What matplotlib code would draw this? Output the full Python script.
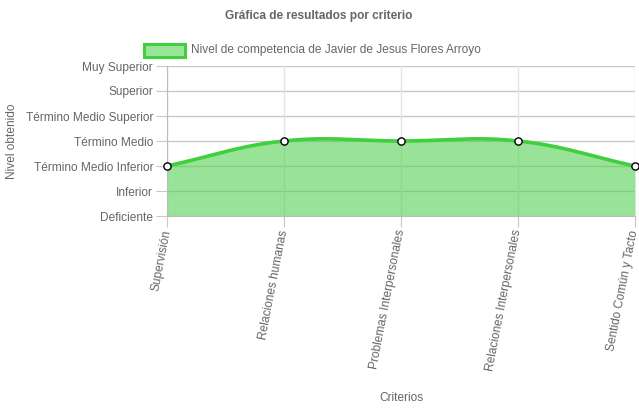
import numpy as np
import matplotlib
matplotlib.use("Agg")
import matplotlib.pyplot as plt
from matplotlib.patches import Rectangle

criterios = ["Supervisión", "Relaciones humanas", "Problemas Interpersonales",
             "Relaciones Interpersonales", "Sentido Común y Tacto"]
niveles = ["Deficiente", "Inferior", "Término Medio Inferior", "Término Medio",
           "Término Medio Superior", "Superior", "Muy Superior"]
valores = [2, 3, 3, 3, 2]
serie = "Nivel de competencia de Javier de Jesus Flores Arroyo"

plt.rcParams['font.family'] = ['Liberation Sans', 'DejaVu Sans']
TXT = '#666666'
FS = 8.6

fig = plt.figure(figsize=(6.39, 4.11), dpi=100)
W, H = 639, 411
L, R, T, B = 167, 635, 66, 216
ax = fig.add_axes([L / W, (H - B) / H, (R - L) / W, (B - T) / H])

x = np.arange(len(criterios), dtype=float)
y = np.array(valores, dtype=float)
ax.set_xlim(0, len(criterios) - 1)
ax.set_ylim(0, len(niveles) - 1)

# Chart.js-like spline (tension 0.4) computed in pixel space
sx = (R - L) / (len(criterios) - 1)
sy = (B - T) / (len(niveles) - 1)
px, py = x * sx, y * sy
t = 0.4
cps = []
n = len(px)
for i in range(n):
    pp = (px[max(i - 1, 0)], py[max(i - 1, 0)])
    cu = (px[i], py[i])
    nx = (px[min(i + 1, n - 1)], py[min(i + 1, n - 1)])
    d01 = np.hypot(cu[0] - pp[0], cu[1] - pp[1])
    d12 = np.hypot(nx[0] - cu[0], nx[1] - cu[1])
    s01 = d01 / (d01 + d12) if d01 + d12 else 0
    s12 = d12 / (d01 + d12) if d01 + d12 else 0
    fa, fb = t * s01, t * s12
    c1 = (cu[0] - fa * (nx[0] - pp[0]), cu[1] - fa * (nx[1] - pp[1]))
    c2 = (cu[0] + fb * (nx[0] - pp[0]), cu[1] + fb * (nx[1] - pp[1]))
    cps.append((c1, c2))
cx, cy = [], []
tt = np.linspace(0, 1, 60)
for i in range(n - 1):
    p0 = np.array([px[i], py[i]])
    p1 = np.array(cps[i][1])
    p2 = np.array(cps[i + 1][0])
    p3 = np.array([px[i + 1], py[i + 1]])
    pts = ((1 - tt) ** 3)[:, None] * p0 + (3 * (1 - tt) ** 2 * tt)[:, None] * p1 \
        + (3 * (1 - tt) * tt ** 2)[:, None] * p2 + (tt ** 3)[:, None] * p3
    cx.extend(pts[:, 0] / sx)
    cy.extend(pts[:, 1] / sy)
cx, cy = np.array(cx), np.array(cy)

# grid
for k in range(len(niveles)):
    ax.axhline(k, color='#c8c8c8', lw=1, zorder=1)
for k in range(len(criterios)):
    ax.axvline(k, color='#e4e4e4', lw=1, zorder=1)

ax.fill_between(cx, 0, cy, color=(0.33, 0.82, 0.33), alpha=0.6, lw=0, zorder=2)
ax.plot(cx, cy, color='#3fcf3f', lw=2.6, zorder=3, solid_capstyle='round')
ax.plot(x, y, 'o', ms=5.2, mfc='white', mec='black', mew=1.0, zorder=4,
        clip_on=False)

for s in ['top', 'right']:
    ax.spines[s].set_visible(False)
ax.spines['left'].set_color('#bbbbbb')
ax.spines['bottom'].set_color('#bbbbbb')

ax.set_yticks(range(len(niveles)))
ax.set_yticklabels(niveles, color=TXT, fontsize=FS)
ax.set_xticks(x)
ax.set_xticklabels(criterios, color=TXT, fontsize=FS, rotation=79,
                   ha='right', va='center', rotation_mode='anchor')
ax.tick_params(axis='both', length=8, color='#c8c8c8', pad=2)

fig.text(12 / W, 1 - 141 / H, "Nivel obtenido", rotation=90, color=TXT,
         fontsize=FS, ha='center', va='center')
fig.text(401 / W, 1 - 398 / H, "Criterios", color=TXT, fontsize=FS,
         ha='center', va='center')

fig.text(319 / W, 1 - 16 / H, "Gráfica de resultados por criterio",
         color=TXT, fontsize=FS, fontweight='bold', ha='center', va='center')

# legend
fig.patches.append(Rectangle((144 / W, 1 - 57 / H), 41 / W, 13 / H,
                             transform=fig.transFigure, facecolor='#99e699',
                             edgecolor='#3fcf3f', lw=2.2))
fig.text(191 / W, 1 - 50 / H, serie, color=TXT, fontsize=FS,
         ha='left', va='center')

fig.savefig("out.png", dpi=100)
